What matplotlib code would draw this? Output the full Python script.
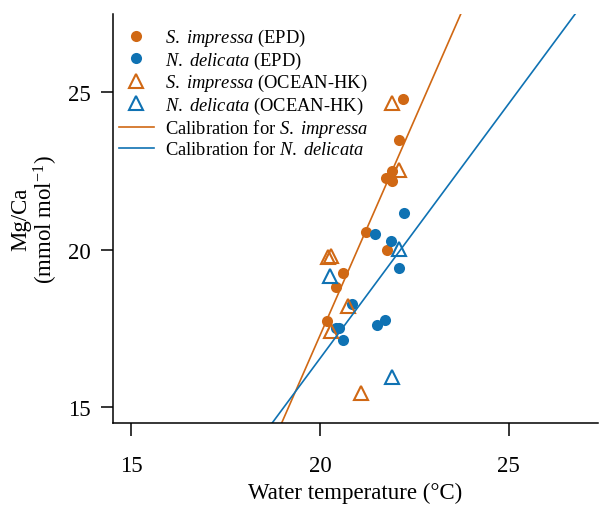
import matplotlib
matplotlib.use('Agg')
import matplotlib.pyplot as plt
import numpy as np

plt.rcParams['font.family'] = ['Liberation Serif', 'DejaVu Serif']
plt.rcParams['mathtext.fontset'] = 'custom'
plt.rcParams['mathtext.rm'] = 'Liberation Serif'
plt.rcParams['mathtext.it'] = 'Liberation Serif:italic'

ORANGE = '#D06814'
BLUE = '#0F72B3'

# S. impressa (EPD)
si_epd_t = [22.20, 22.09, 21.90, 21.75, 21.92, 21.23, 21.78, 20.60, 20.42, 20.18]
si_epd_mg = [24.78, 23.48, 22.50, 22.29, 22.17, 20.55, 19.98, 19.25, 18.82, 17.74]
# N. delicata (EPD)
nd_epd_t = [22.22, 21.45, 21.87, 22.09, 20.84, 20.50, 20.60, 21.52, 21.71, 20.42]
nd_epd_mg = [21.16, 20.49, 20.28, 19.40, 18.27, 17.51, 17.14, 17.61, 17.77, 17.50]
# S. impressa (OCEAN-HK)
si_hk_t = [21.90, 22.10, 20.22, 20.30, 20.75, 20.28, 21.10]
si_hk_mg = [24.65, 22.53, 19.77, 19.80, 18.22, 17.42, 15.44]
# N. delicata (OCEAN-HK)
nd_hk_t = [20.26, 22.09, 21.92]
nd_hk_mg = [19.15, 20.02, 15.94]

# calibration lines: Mg/Ca = slope * T + intercept
si_slope, si_icpt = 2.74, -37.53
nd_slope, nd_icpt = 1.62, -15.86

fig = plt.figure(figsize=(5.99, 5.06), dpi=100)
ax = fig.add_axes([0.1886, 0.162, 0.809, 0.808])

ax.plot(si_epd_t, si_epd_mg, 'o', color=ORANGE, ms=8, mec='none',
        label=r'$\it{S.\ impressa}$ (EPD)')
ax.plot(nd_epd_t, nd_epd_mg, 'o', color=BLUE, ms=8, mec='none',
        label=r'$\it{N.\ delicata}$ (EPD)')
ax.plot(si_hk_t, si_hk_mg, '^', mfc='none', mec=ORANGE, ms=10, mew=1.5,
        label=r'$\it{S.\ impressa}$ (OCEAN-HK)')
ax.plot(nd_hk_t, nd_hk_mg, '^', mfc='none', mec=BLUE, ms=10, mew=1.5,
        label=r'$\it{N.\ delicata}$ (OCEAN-HK)')
ax.axline((0, si_icpt), slope=si_slope, color=ORANGE, lw=1.2,
          label=r'Calibration for $\it{S.\ impressa}$')
ax.axline((0, nd_icpt), slope=nd_slope, color=BLUE, lw=1.2,
          label=r'Calibration for $\it{N.\ delicata}$')

ax.set_xlim(14.52, 27.35)
ax.set_ylim(14.49, 27.48)
ax.set_xticks([15, 20, 25])
ax.set_yticks([15, 20, 25])
for s in ['top', 'right']:
    ax.spines[s].set_visible(False)
for s in ['left', 'bottom']:
    ax.spines[s].set_linewidth(1.1)
ax.tick_params(labelsize=16.5, length=9, width=1.1)
ax.tick_params(axis='x', pad=14)
ax.tick_params(axis='y', pad=7)

ax.set_xlabel('Water temperature (°C)', fontsize=16.5, labelpad=4)
ax.set_ylabel('Mg/Ca\n(mmol mol$^{-1}$)', fontsize=16.5, labelpad=6, linespacing=1.0)

ax.legend(loc='upper left', bbox_to_anchor=(-0.011, 0.995), frameon=False,
          fontsize=13.3, handlelength=1.9, handletextpad=0.6,
          labelspacing=0.07, borderaxespad=0.2)

fig.savefig('out.png', dpi=100)
